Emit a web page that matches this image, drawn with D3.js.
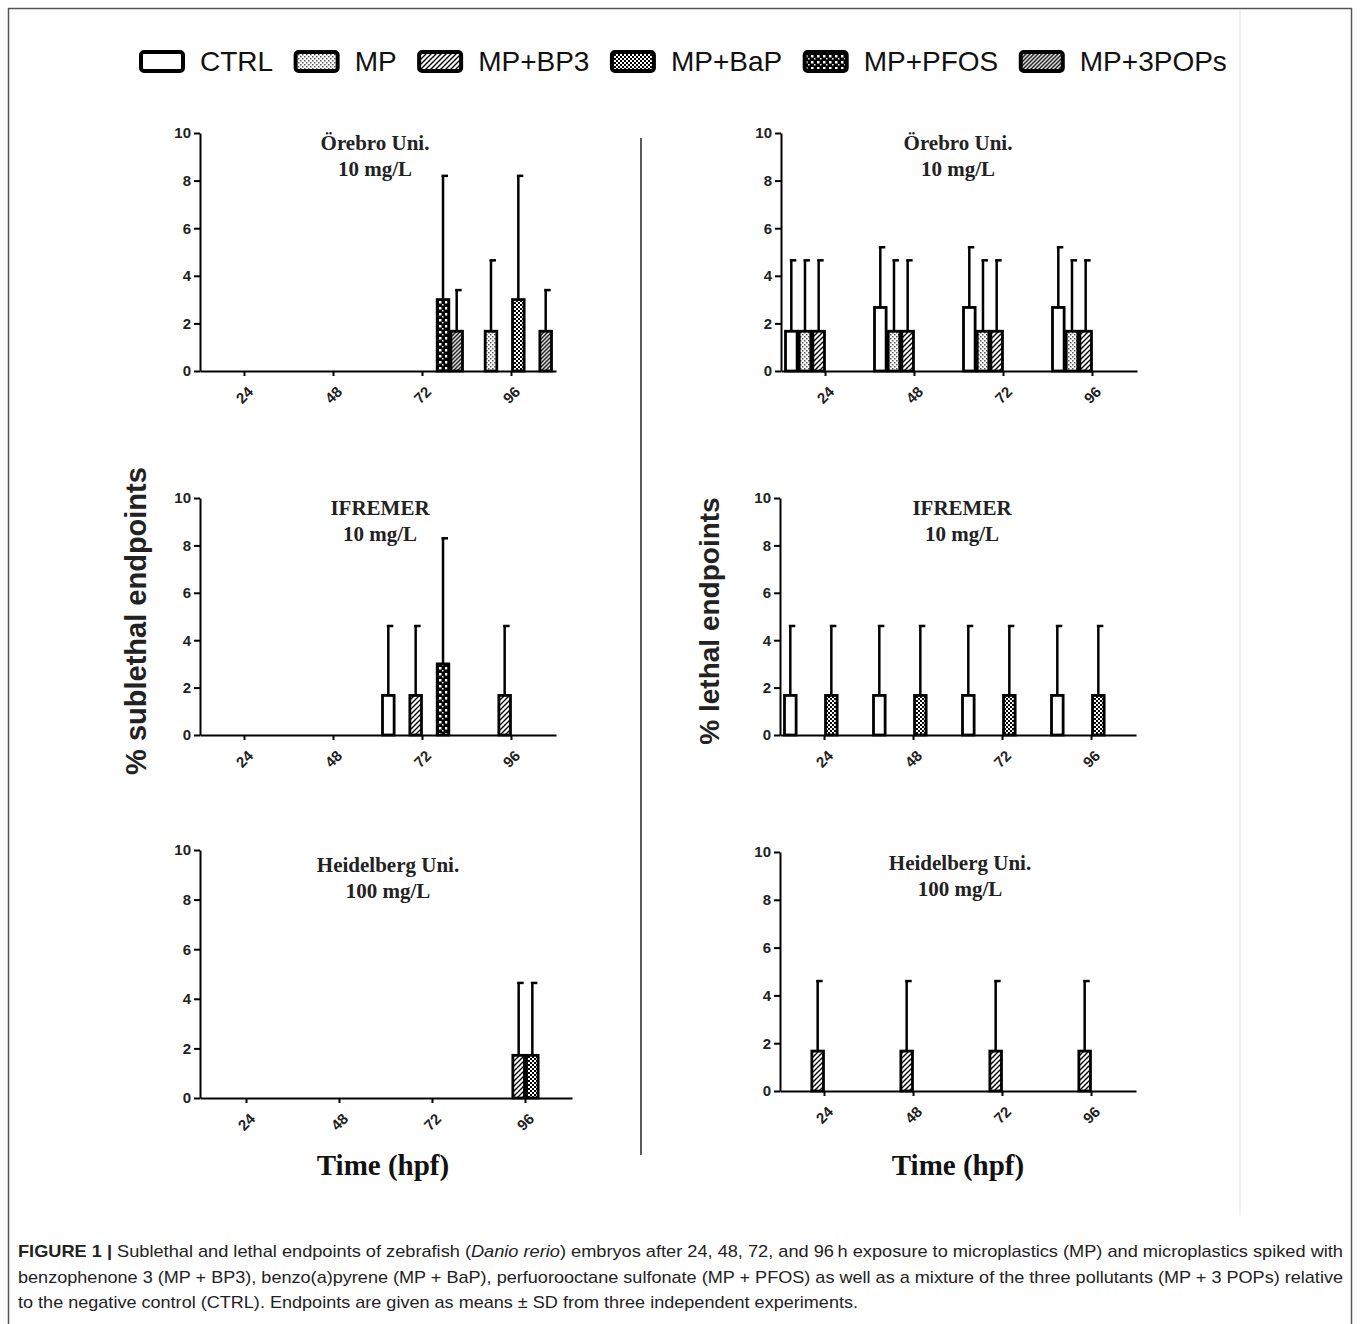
<!DOCTYPE html>
<html>
<head>
<meta charset="utf-8">
<script src="https://cdn.jsdelivr.net/npm/d3@7/dist/d3.min.js"></script>
<style>
body { margin: 0; background: #fff; }
.axis path, .axis line { stroke: #000; stroke-width: 2px; }
.axis text { font-family: "Liberation Sans", Arial, sans-serif; font-weight: bold; font-size: 15px; fill: #222; }
</style>
</head>
<body>
<div id="chart"></div>
<script>
// groups, series, ticks
var times = ["24", "48", "72", "96"];
var series = ["CTRL", "MP", "MP+BP3", "MP+BaP", "MP+PFOS", "MP+3POPs"];
var yTicks = [0, 2, 4, 6, 8, 10];

// rows = time point, columns = series (CTRL, MP, MP+BP3, MP+BaP, MP+PFOS, MP+3POPs)
var orebroSubMean = [[0,0,0,0,0,0],[0,0,0,0,0,0],[0,0,0,0,3.0,1.67],[0,1.67,0,3.0,0,1.67]];
var orebroSubSD   = [[0,0,0,0,0,0],[0,0,0,0,0,0],[0,0,0,0,5.2,1.73],[0,2.98,0,5.2,0,1.73]];
var orebroLetMean = [[1.67,1.67,1.67,0,0,0],[2.67,1.67,1.67,0,0,0],[2.67,1.67,1.67,0,0,0],[2.67,1.67,1.67,0,0,0]];
var orebroLetSD   = [[2.98,2.98,2.98,0,0,0],[2.53,2.98,2.98,0,0,0],[2.53,2.98,2.98,0,0,0],[2.53,2.98,2.98,0,0,0]];
var ifremerSubMean = [[0,0,0,0,0,0],[0,0,0,0,0,0],[1.67,0,1.67,0,3.0,0],[0,0,1.67,0,0,0]];
var ifremerSubSD   = [[0,0,0,0,0,0],[0,0,0,0,0,0],[2.93,0,2.93,0,5.3,0],[0,0,2.93,0,0,0]];
var ifremerLetMean = [[1.67,0,0,1.67,0,0],[1.67,0,0,1.67,0,0],[1.67,0,0,1.67,0,0],[1.67,0,0,1.67,0,0]];
var ifremerLetSD   = [[2.93,0,0,2.93,0,0],[2.93,0,0,2.93,0,0],[2.93,0,0,2.93,0,0],[2.93,0,0,2.93,0,0]];
var heidelSubMean = [[0,0,0,0,0,0],[0,0,0,0,0,0],[0,0,0,0,0,0],[0,0,1.72,1.72,0,0]];
var heidelSubSD   = [[0,0,0,0,0,0],[0,0,0,0,0,0],[0,0,0,0,0,0],[0,0,2.92,2.92,0,0]];
var heidelLetMean = [[0,0,1.67,0,0,0],[0,0,1.67,0,0,0],[0,0,1.67,0,0,0],[0,0,1.67,0,0,0]];
var heidelLetSD   = [[0,0,2.93,0,0,0],[0,0,2.93,0,0,0],[0,0,2.93,0,0,0],[0,0,2.93,0,0,0]];

var captionLines = [
	[["b","FIGURE 1 | "],["n","Sublethal and lethal endpoints of zebrafish ("],["i","Danio rerio"],["n",") embryos after 24, 48, 72, and 96\u2009h exposure to microplastics (MP) and microplastics spiked with"]],
	[["n","benzophenone 3 (MP + BP3), benzo(a)pyrene (MP + BaP), perfuorooctane sulfonate (MP + PFOS) as well as a mixture of the three pollutants (MP + 3 POPs) relative"]],
	[["n","to the negative control (CTRL). Endpoints are given as means \u00b1 SD from three independent experiments."]]
];

var width = 1360, height = 1324;
var svg = d3.select("#chart").append("svg").attr("width", width).attr("height", height);
var sans = "'Liberation Sans', Arial, sans-serif";
var serif = "'Liberation Serif', 'Times New Roman', serif";

// fill patterns for each series
var defs = svg.append("defs");
function pattern(id, size, bg){
	var p = defs.append("pattern").attr("id", id).attr("patternUnits", "userSpaceOnUse")
		.attr("width", size).attr("height", size);
	p.append("rect").attr("width", size).attr("height", size).attr("fill", bg);
	return p;
}
pattern("p-ctrl", 4, "#fff");
var pmp = pattern("p-mp", 4, "#fff");
pmp.append("rect").attr("x", 0).attr("y", 0).attr("width", 1.5).attr("height", 1.5).attr("fill", "#555");
pmp.append("rect").attr("x", 2).attr("y", 2).attr("width", 1.5).attr("height", 1.5).attr("fill", "#555");
var pbp3 = pattern("p-bp3", 5, "#fff");
pbp3.append("path").attr("d", "M-1,6 L6,-1 M-1,1 L1,-1 M4,6 L6,4").attr("stroke", "#000").attr("stroke-width", 1.4);
var pbap = pattern("p-bap", 4, "#fff");
pbap.append("rect").attr("x", 0).attr("y", 0).attr("width", 2).attr("height", 2).attr("fill", "#000");
pbap.append("rect").attr("x", 2).attr("y", 2).attr("width", 2).attr("height", 2).attr("fill", "#000");
var ppfos = pattern("p-pfos", 6, "#000");
ppfos.append("rect").attr("x", 1).attr("y", 1).attr("width", 2.5).attr("height", 2.5).attr("fill", "#fff");
ppfos.append("rect").attr("x", 4).attr("y", 4).attr("width", 1.5).attr("height", 1.5).attr("fill", "#fff");
var ppop = pattern("p-pop", 4, "#ddd");
ppop.append("path").attr("d", "M-1,5 L5,-1 M-1,1 L1,-1 M3,5 L5,3").attr("stroke", "#222").attr("stroke-width", 1.4);
var fills = ["url(#p-ctrl)", "url(#p-mp)", "url(#p-bp3)", "url(#p-bap)", "url(#p-pfos)", "url(#p-pop)"];

// outer frame, divider and faint scan edge
svg.append("rect").attr("x", 8.5).attr("y", 8.5).attr("width", 1343).attr("height", 1330)
	.attr("fill", "none").attr("stroke", "#555").attr("stroke-width", 1.5);
svg.append("line").attr("x1", 1240).attr("x2", 1240).attr("y1", 10).attr("y2", 1215)
	.attr("stroke", "#ececec").attr("stroke-width", 1.5);
svg.append("line").attr("x1", 641).attr("x2", 641).attr("y1", 138).attr("y2", 1155)
	.attr("stroke", "#333").attr("stroke-width", 1.6);

// legend
var lx = 141;
series.forEach(function(s, i){
	svg.append("rect").attr("x", lx).attr("y", 52).attr("width", 42).attr("height", 19).attr("rx", 3)
		.attr("fill", fills[i]).attr("stroke", "#000").attr("stroke-width", 4);
	var t = svg.append("text").attr("x", lx + 59).attr("y", 71)
		.attr("font-family", sans).attr("font-size", 28).attr("fill", "#111").text(s);
	lx = lx + 59 + t.node().getComputedTextLength() + 22.5;
});

function drawPanel(p){
	var x = d3.scaleBand().domain(times).range([p.x0, p.x1]).padding(0);
	var xs = d3.scaleBand().domain(series).range([-40, 40]).paddingInner(0.15);
	var y = d3.scaleLinear().domain([0, 10]).range([p.yBot, p.yTop]);

	var yAxis = d3.axisLeft(y).tickValues(yTicks).tickSize(6).tickSizeOuter(0).tickPadding(3);
	svg.append("g").attr("class", "axis").attr("transform", "translate(" + p.x0 + ",0)").call(yAxis);

	var xAxis = d3.axisBottom(x).tickSize(5).tickSizeOuter(0);
	var gx = svg.append("g").attr("class", "axis").attr("transform", "translate(0," + p.yBot + ")").call(xAxis);
	gx.selectAll("text").attr("y", 0).attr("dy", "0.35em")
		.attr("transform", "translate(0,24) rotate(-45)").style("text-anchor", "middle");

	// bars and upward SD whiskers
	for (var t = 0; t < times.length; t++){
		for (var s = 0; s < series.length; s++){
			var m = p.mean[t][s];
			if (m <= 0) continue;
			var bx = x(times[t]) + x.bandwidth() / 2 + xs(series[s]);
			var cx = bx + xs.bandwidth() / 2;
			svg.append("line").attr("x1", cx).attr("x2", cx)
				.attr("y1", y(m)).attr("y2", y(m + p.sd[t][s]))
				.attr("stroke", "#000").attr("stroke-width", 2.5);
			svg.append("line").attr("x1", cx - 1.5).attr("x2", cx + 5)
				.attr("y1", y(m + p.sd[t][s])).attr("y2", y(m + p.sd[t][s]))
				.attr("stroke", "#000").attr("stroke-width", 2.5);
			svg.append("rect").attr("x", bx).attr("width", xs.bandwidth())
				.attr("y", y(m)).attr("height", y(0) - y(m))
				.attr("fill", fills[s]).attr("stroke", "#000").attr("stroke-width", 2.8);
		}
	}

	// panel title
	svg.append("text").attr("x", p.tx).attr("y", p.ty).attr("text-anchor", "middle")
		.attr("font-family", serif).attr("font-weight", "bold").attr("font-size", 21).attr("fill", "#222")
		.text(p.title[0]);
	svg.append("text").attr("x", p.tx).attr("y", p.ty + 26).attr("text-anchor", "middle")
		.attr("font-family", serif).attr("font-weight", "bold").attr("font-size", 21).attr("fill", "#222")
		.text(p.title[1]);
}

var panels = [
	{mean: orebroSubMean, sd: orebroSubSD, x0: 200, x1: 556, yTop: 133, yBot: 371, tx: 375, ty: 150, title: ["Örebro Uni.", "10 mg/L"]},
	{mean: orebroLetMean, sd: orebroLetSD, x0: 781, x1: 1137, yTop: 133, yBot: 371, tx: 958, ty: 150, title: ["Örebro Uni.", "10 mg/L"]},
	{mean: ifremerSubMean, sd: ifremerSubSD, x0: 200, x1: 556, yTop: 498, yBot: 735, tx: 380, ty: 515, title: ["IFREMER", "10 mg/L"]},
	{mean: ifremerLetMean, sd: ifremerLetSD, x0: 780, x1: 1136, yTop: 498, yBot: 735, tx: 962, ty: 515, title: ["IFREMER", "10 mg/L"]},
	{mean: heidelSubMean, sd: heidelSubSD, x0: 200, x1: 572, yTop: 850, yBot: 1098, tx: 388, ty: 872, title: ["Heidelberg Uni.", "100 mg/L"]},
	{mean: heidelLetMean, sd: heidelLetSD, x0: 780, x1: 1136, yTop: 852, yBot: 1091, tx: 960, ty: 870, title: ["Heidelberg Uni.", "100 mg/L"]}
];
panels.forEach(drawPanel);

// axis titles
svg.append("text").attr("transform", "translate(136,621) rotate(-90)").attr("dy", "0.35em")
	.attr("text-anchor", "middle").attr("font-family", sans).attr("font-weight", "bold")
	.attr("font-size", 29).attr("fill", "#222").text("% sublethal endpoints");
svg.append("text").attr("transform", "translate(709,621) rotate(-90)").attr("dy", "0.35em")
	.attr("text-anchor", "middle").attr("font-family", sans).attr("font-weight", "bold")
	.attr("font-size", 28).attr("fill", "#222").text("% lethal endpoints");
[383, 958].forEach(function(cx){
	svg.append("text").attr("x", cx).attr("y", 1175).attr("text-anchor", "middle")
		.attr("font-family", serif).attr("font-weight", "bold").attr("font-size", 29).attr("fill", "#111")
		.text("Time (hpf)");
});

// caption
var capLen = [1325, 1325, 840];
captionLines.forEach(function(line, i){
	var t = svg.append("text").attr("x", 18).attr("y", 1257 + i * 25.5)
		.attr("font-family", "'Liberation Sans Narrow', " + sans).attr("font-size", 17).attr("fill", "#222")
		.attr("textLength", capLen[i]).attr("lengthAdjust", "spacingAndGlyphs");
	line.forEach(function(seg){
		var ts = t.append("tspan").text(seg[1]);
		if (seg[0] == "b") ts.attr("font-weight", "bold");
		if (seg[0] == "i") ts.attr("font-style", "italic");
	});
});
</script>
</body>
</html>
